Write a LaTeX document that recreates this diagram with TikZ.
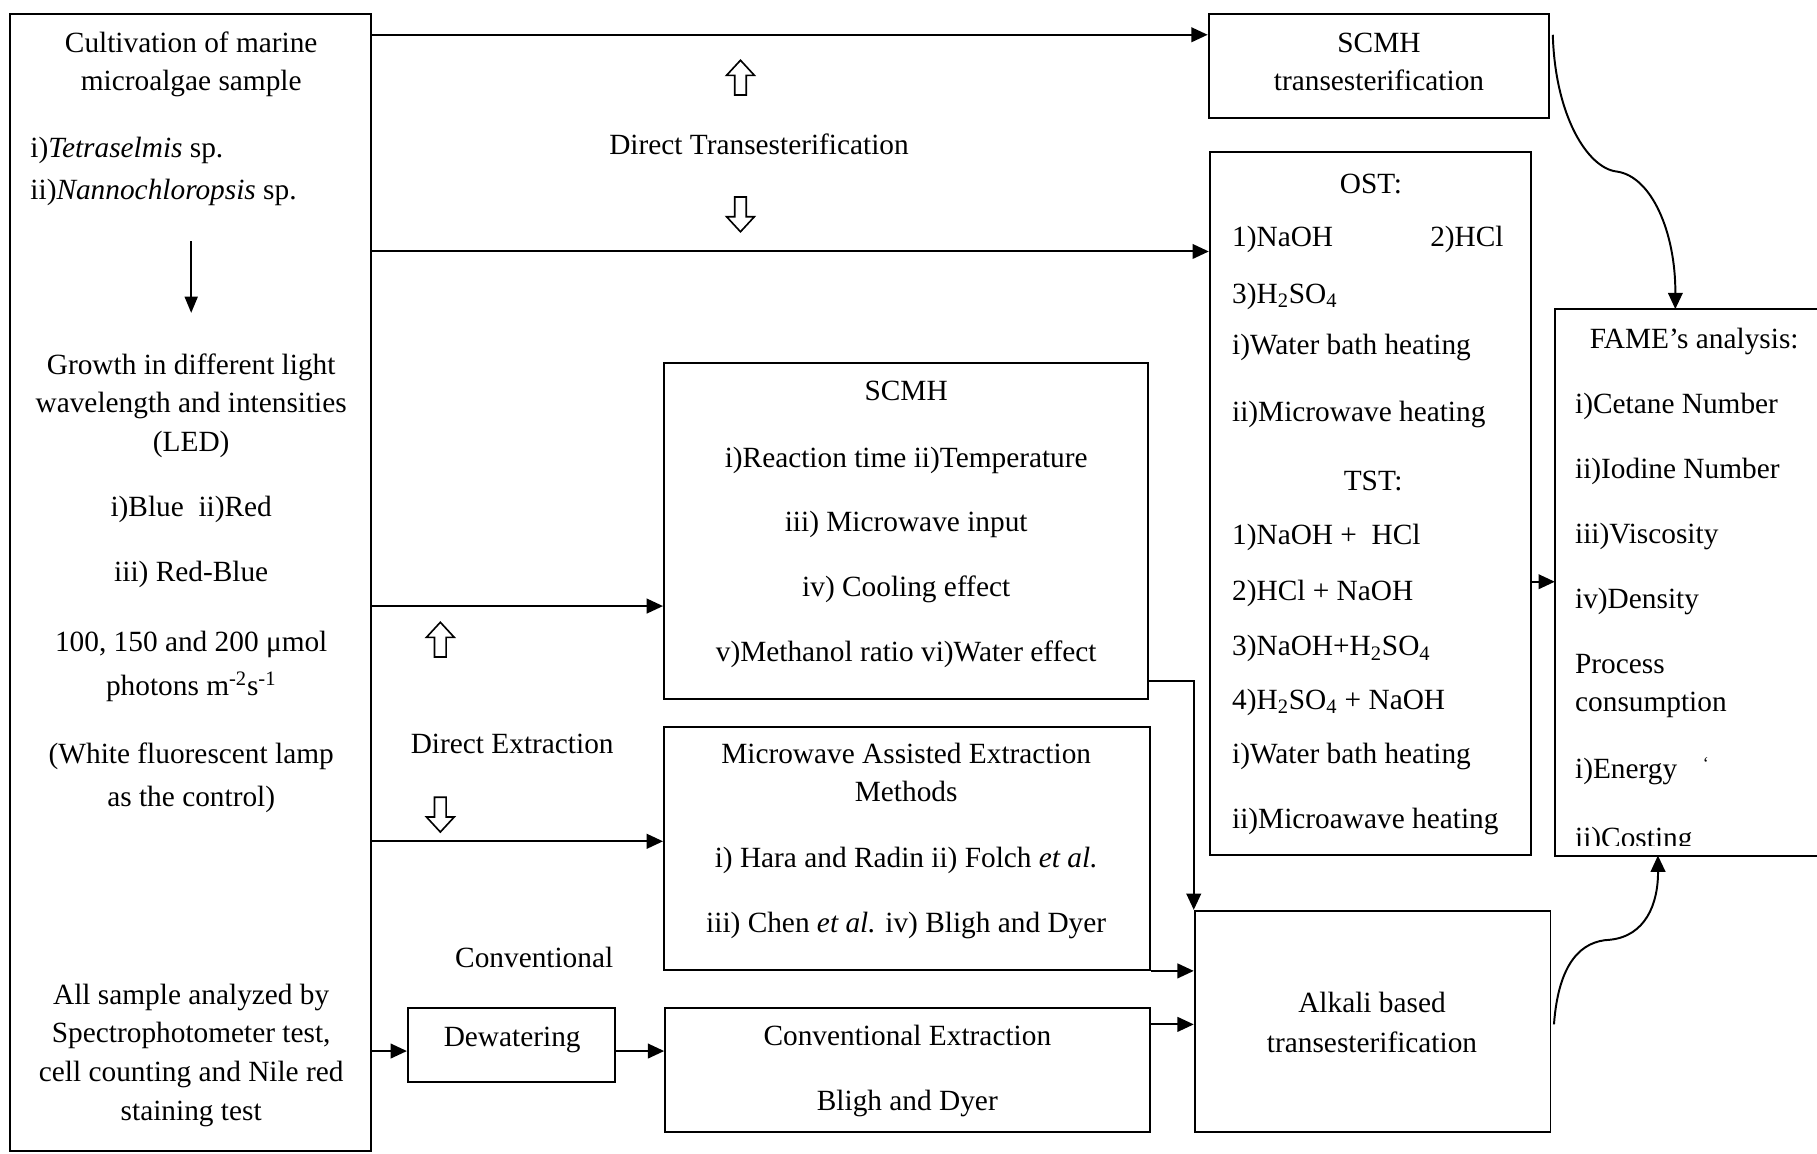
\documentclass[tikz,border=0pt]{standalone}
\usepackage{fontspec}
\setmainfont{Liberation Serif}
\usetikzlibrary{arrows.meta,calc,fit}
\newcommand\myfs{\fontsize{18}{23}\selectfont}
\begin{document}
\begin{tikzpicture}[x=0.025cm,y=-0.025cm,
  box/.style={draw, line width=1.2pt, inner sep=0pt},
  nobox/.style={inner sep=0pt},
  txt/.style={font=\myfs, inner sep=0pt, anchor=base},
  ltxt/.style={txt, anchor=base west},
  ln/.style={line width=1.2pt},
  arr/.style={line width=1.2pt, -{Triangle[length=10pt,width=9pt]}},
  hup/.pic={\draw[line width=1pt] (0,-15) -- (12,-2) -- (5,-2) -- (5,15) -- (-5,15) -- (-5,-2) -- (-12,-2) -- cycle;},
  hdown/.pic={\draw[line width=1pt] (0,15) -- (12,2) -- (5,2) -- (5,-15) -- (-5,-15) -- (-5,2) -- (-12,2) -- cycle;}
]
\useasboundingbox (0,0) rectangle (1568,995);

% ---------- boxes ----------
\node[box, fit={(9,12) (320,993)}] (L) {};
\node[box, fit={(352,870) (531,934)}] (DW) {};
\node[box, fit={(573,313) (991,603)}] (S) {};
\node[box, fit={(573,627) (992,837)}] (M) {};
\node[box, fit={(574,870) (992,977)}] (CE) {};
\node[box, fit={(1043,12) (1337,102)}] (T) {};
\node[box, fit={(1044,131) (1321,738)}] (O) {};
\node[nobox, fit={(1342,267) (1572,738)}] (F) {};
\draw[ln] (F.north east) -- (F.north west) -- (F.south west) -- (F.south east);
\node[box, fit={(1031,786) (1338,977)}] (AL) {};

% ---------- left box text ----------
\node[txt] (l1) at (165,45) {Cultivation of marine};
\node[txt] (l2) at (165,78) {microalgae sample};
\node[ltxt] (l3) at (26,136) {i)\textit{Tetraselmis} sp.};
\node[ltxt] (l4) at (26,172) {ii)\textit{Nannochloropsis} sp.};
\node[txt] (l5) at (165,323) {Growth in different light};
\node[txt] (l6) at (165,356) {wavelength and intensities};
\node[txt] (l7) at (165,390) {(LED)};
\node[txt] (l8) at (165,446) {i)Blue\ \ ii)Red};
\node[txt] (l9) at (165,502) {iii) Red-Blue};
\node[txt] (l10) at (165,562) {100, 150 and 200 μmol};
\node[txt] (l11) at (165,600) {photons m\textsuperscript{-2}s\textsuperscript{-1}};
\node[txt] (l12) at (165,659) {(White fluorescent lamp};
\node[txt] (l13) at (165,696) {as the control)};
\node[txt] (l14) at (165,867) {All sample analyzed by};
\node[txt] (l15) at (165,900) {Spectrophotometer test,};
\node[txt] (l16) at (165,933) {cell counting and Nile red};
\node[txt] (l17) at (165,967) {staining test};
\coordinate (a0) at (165,208);
\coordinate (a1) at (165,270);
\draw[line width=1.1pt, -{Triangle[length=10pt,width=8pt]}] (a0) -- (a1);

% ---------- middle labels ----------
\node[txt] (dt) at (655,133) {Direct Transesterification};
\pic at (639,67) {hup};
\pic at (639,185) {hdown};
\node[txt] (de) at (442,650) {Direct Extraction};
\pic at (380,552) {hup};
\pic at (380,703) {hdown};
\node[txt] (cv) at (461,835) {Conventional};
\node[txt] (dw) at (442,903) {Dewatering};

% ---------- SCMH box ----------
\node[txt] (s1) at (782,346) {SCMH};
\node[txt] (s2) at (782,403) {i)Reaction time ii)Temperature};
\node[txt] (s3) at (782,459) {iii) Microwave input};
\node[txt] (s4) at (782,515) {iv) Cooling effect};
\node[txt] (s5) at (782,571) {v)Methanol ratio vi)Water effect};

% ---------- MAE box ----------
\node[txt] (m1) at (782,659) {Microwave Assisted Extraction};
\node[txt] (m2) at (782,692) {Methods};
\node[txt] (m3) at (782,749) {i) Hara and Radin ii) Folch \textit{et al.}};
\node[txt] (m4) at (782,805) {iii) Chen \textit{et al.} iv) Bligh and Dyer};

% ---------- conventional extraction ----------
\node[txt] (c1t) at (783,902) {Conventional Extraction};
\node[txt] (c2t) at (783,958) {Bligh and Dyer};

% ---------- SCMH transesterification ----------
\node[txt] (tt1) at (1190,45) {SCMH};
\node[txt] (tt2) at (1190,78) {transesterification};

% ---------- OST / TST ----------
\node[txt] (o1) at (1183,167) {OST:};
\node[ltxt] (o2) at (1063,213) {1)NaOH};
\node[ltxt] (o3) at (1234,213) {2)HCl};
\node[ltxt] (o4) at (1063,262) {3)H\textsubscript{2}SO\textsubscript{4}};
\node[ltxt] (o5) at (1063,306) {i)Water bath heating};
\node[ltxt] (o6) at (1063,364) {ii)Microwave heating};
\node[txt] (o7) at (1185,423) {TST:};
\node[ltxt] (o8) at (1063,470) {1)NaOH +\ \ HCl};
\node[ltxt] (o9) at (1063,518) {2)HCl + NaOH};
\node[ltxt] (o10) at (1063,566) {3)NaOH+H\textsubscript{2}SO\textsubscript{4}};
\node[ltxt] (o11) at (1063,612) {4)H\textsubscript{2}SO\textsubscript{4} + NaOH};
\node[ltxt] (o12) at (1063,659) {i)Water bath heating};
\node[ltxt] (o13) at (1063,715) {ii)Microawave heating};

% ---------- FAME ----------
\node[txt] (f1) at (1462,301) {FAME’s analysis:};
\node[ltxt] (f2) at (1359,357) {i)Cetane Number};
\node[ltxt] (f3) at (1359,413) {ii)Iodine Number};
\node[ltxt] (f4) at (1359,469) {iii)Viscosity};
\node[ltxt] (f5) at (1359,525) {iv)Density};
\node[ltxt] (f6) at (1359,581) {Process};
\node[ltxt] (f7) at (1359,614) {consumption};
\node[ltxt] (f8) at (1359,672) {i)Energy};
\node[txt, font=\fontsize{11}{12}\selectfont] (f9) at (1472,664) {‘};
\begin{scope}
\clip (1345,690) rectangle (1565,730);
\node[ltxt] (f10) at (1359,731) {ii)Costing};
\end{scope}

% ---------- alkali ----------
\node[txt] (al1) at (1184,874) {Alkali based};
\node[txt] (al2) at (1184,908) {transesterification};

% ---------- connectors ----------
\coordinate (y1) at (0,30);
\coordinate (y2) at (0,217);
\coordinate (y3) at (0,523);
\coordinate (y4) at (0,726);
\coordinate (y5) at (0,907);
\coordinate (y6) at (0,588);
\coordinate (y7) at (0,884);
\coordinate (y8) at (0,502);
\draw[arr] (L.east |- y1) -- (T.west |- y1);
\draw[arr] (L.east |- y2) -- (O.west |- y2);
\draw[arr] (L.east |- y3) -- (S.west |- y3);
\draw[arr] (L.east |- y4) -- (M.west |- y4);
\draw[arr] (L.east |- y5) -- (DW.west |- y5);
\draw[arr] (DW.east |- y5) -- (CE.west |- y5);
\draw[arr] (S.east |- y6) -| (AL.north west);
\draw[arr] (M.south east) -- (M.south east -| AL.west);
\draw[arr] (CE.east |- y7) -- (AL.west |- y7);
\draw[arr] (O.east |- y8) -- (F.west |- y8);

\coordinate (cs1) at (1340,30);
\draw[arr] (cs1) .. controls (1342,100) and (1370,145) .. (1395,148)
  .. controls (1425,152) and (1446,200) .. ($(F.north west)+(104,0)$);
\coordinate (cs2) at (1341,884);
\draw[arr] (cs2) .. controls (1345,830) and (1365,812) .. (1389,811)
  .. controls (1420,808) and (1431,780) .. ($(F.south west)+(89,0)$);
\end{tikzpicture}
\end{document}
